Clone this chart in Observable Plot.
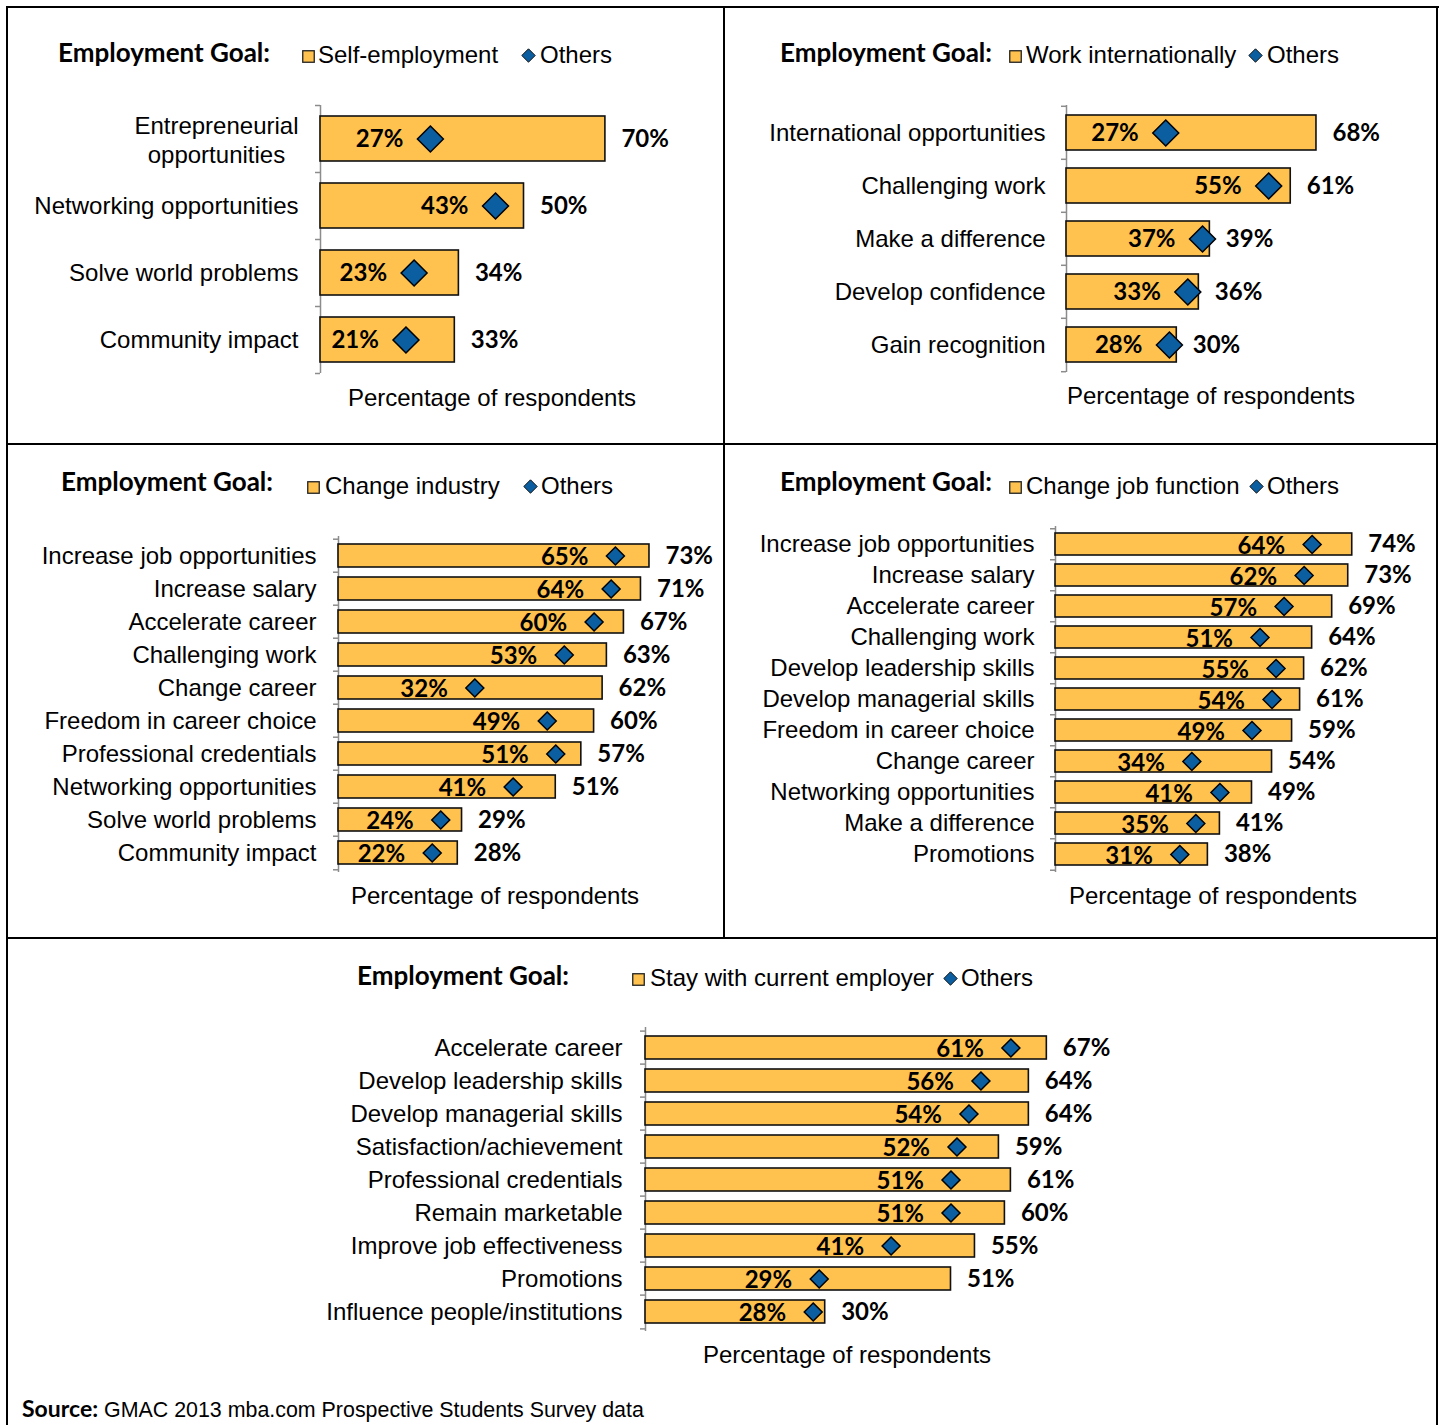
<!DOCTYPE html>
<html><head><meta charset="utf-8">
<script src="https://cdn.jsdelivr.net/npm/d3@7"></script>
<script src="https://cdn.jsdelivr.net/npm/@observablehq/plot@0.6"></script>
<style>
body{margin:0;background:#fff;}
#page{position:relative;width:1440px;height:1425px;background:#fff;overflow:hidden;font-family:"Liberation Sans",Arial,sans-serif;color:#000;}
.abs{position:absolute;white-space:nowrap;line-height:1;transform:translateY(-50%);}
.ctr{transform:translate(-50%,-50%);}
.title{font-family:Lato,sans-serif;font-weight:700;font-size:26px;}
.leg{font-size:24px;}
.xlab{font-size:24px;}
.line{position:absolute;background:#000;}
svg.plot{position:absolute;overflow:visible;}
</style></head><body><div id="page"></div>
<script>
// ---------- DATA ----------
const p1Cats = ["Entrepreneurial\nopportunities", "Networking opportunities", "Solve world problems", "Community impact"];
const p1Goal = [70, 50, 34, 33];
const p1Others = [27, 43, 23, 21];

const p2Cats = ["International opportunities", "Challenging work", "Make a difference", "Develop confidence", "Gain recognition"];
const p2Goal = [68, 61, 39, 36, 30];
const p2Others = [27, 55, 37, 33, 28];

const p3Cats = ["Increase job opportunities", "Increase salary", "Accelerate career", "Challenging work", "Change career", "Freedom in career choice", "Professional credentials", "Networking opportunities", "Solve world problems", "Community impact"];
const p3Goal = [73, 71, 67, 63, 62, 60, 57, 51, 29, 28];
const p3Others = [65, 64, 60, 53, 32, 49, 51, 41, 24, 22];

const p4Cats = ["Increase job opportunities", "Increase salary", "Accelerate career", "Challenging work", "Develop leadership skills", "Develop managerial skills", "Freedom in career choice", "Change career", "Networking opportunities", "Make a difference", "Promotions"];
const p4Goal = [74, 73, 69, 64, 62, 61, 59, 54, 49, 41, 38];
const p4Others = [64, 62, 57, 51, 55, 54, 49, 34, 41, 35, 31];

const p5Cats = ["Accelerate career", "Develop leadership skills", "Develop managerial skills", "Satisfaction/achievement", "Professional credentials", "Remain marketable", "Improve job effectiveness", "Promotions", "Influence people/institutions"];
const p5Goal = [67, 64, 64, 59, 61, 60, 55, 51, 30];
const p5Others = [61, 56, 54, 52, 51, 51, 41, 29, 28];

const goalNames = ["Self-employment", "Work internationally", "Change industry", "Change job function", "Stay with current employer"];
const titleText = "Employment Goal:";
const othersName = "Others";
const xLabelText = "Percentage of respondents";
const sourceBold = "Source:";
const sourceText = "GMAC 2013 mba.com Prospective Students Survey data";

// ---------- STYLE / LAYOUT ----------
const BAR = "#FFC24F";
const DIAMOND = "#0B5FA0";
const AXIS = "#8c8c8c";
const VALFONT = "Lato, sans-serif";
const CATFONT = "'Liberation Sans', Arial, sans-serif";
const CATSIZE = 24;

const panels = [
  {cats: p1Cats, goal: p1Goal, others: p1Others, name: goalNames[0],
   box: [7, 7, 717, 437], axisX: 320, k: 4.07, y0: 105, y1: 373, pad: 0.33, r: 11.7, dyIn: 0, catDx: -22,
   title: [58, 52], sq: 302, legText: 318, dia: 528, othText: 540, legY: 55, xlab: [492, 398]},
  {cats: p2Cats, goal: p2Goal, others: p2Others, name: goalNames[1],
   box: [724, 7, 713, 437], axisX: 1066, k: 3.676, y0: 105, y1: 372, pad: 0.345, r: 11.7, dyIn: 0, catDx: -21,
   title: [780, 52], sq: 1009, legText: 1026, dia: 1255, othText: 1267, legY: 55, xlab: [1211, 396]},
  {cats: p3Cats, goal: p3Goal, others: p3Others, name: goalNames[2],
   box: [7, 444, 717, 494], axisX: 338, k: 4.26, y0: 536, y1: 872, pad: 0.31, r: 8.1, dyIn: 1.5, catDx: -22,
   title: [61, 481], sq: 307, legText: 325, dia: 530, othText: 541, legY: 486, xlab: [495, 896]},
  {cats: p4Cats, goal: p4Goal, others: p4Others, name: goalNames[3],
   box: [724, 444, 713, 494], axisX: 1055, k: 4.01, y0: 526, y1: 872, pad: 0.3, r: 8.1, dyIn: 1.5, catDx: -21,
   title: [780, 481], sq: 1009, legText: 1026, dia: 1256, othText: 1267, legY: 486, xlab: [1213, 896]},
  {cats: p5Cats, goal: p5Goal, others: p5Others, name: goalNames[4],
   box: [7, 938, 1430, 487], axisX: 645, k: 5.99, y0: 1027, y1: 1331, pad: 0.31, r: 8.1, dyIn: 1.5, catDx: -23,
   title: [357, 975], sq: 632, legText: 650, dia: 950, othText: 961, legY: 978, xlab: [847, 1355]}
];

const page = document.getElementById("page");
const measureCtx = document.createElement("canvas").getContext("2d");
function textWidth(t, font) { measureCtx.font = font; return measureCtx.measureText(t).width; }

function addText(txt, x, y, cls, center) {
  const d = document.createElement("div");
  d.className = "abs " + cls + (center ? " ctr" : "");
  d.style.left = x + "px";
  d.style.top = y + "px";
  d.textContent = txt;
  page.appendChild(d);
  return d;
}
function addLine(x, y, w, h) {
  const d = document.createElement("div");
  d.className = "line";
  Object.assign(d.style, {left: x + "px", top: y + "px", width: w + "px", height: h + "px"});
  page.appendChild(d);
}
function addSvg(html, x, y, w, h) {
  const d = document.createElement("div");
  Object.assign(d.style, {position: "absolute", left: x + "px", top: (y - h / 2) + "px", width: w + "px", height: h + "px"});
  d.innerHTML = html;
  page.appendChild(d);
}

for (const p of panels) {
  const [bx, by, bw, bh] = p.box;
  const data = p.cats.map((c, i) => ({cat: c, goal: p.goal[i], others: p.others[i]}));
  const single = p.cats.filter(c => !c.includes("\n"));
  const multi = p.cats.filter(c => c.includes("\n"));
  const catMarks = [
    Plot.text(single, {x: 0, y: d => d, text: d => d, textAnchor: "end", dx: p.catDx,
      fontFamily: CATFONT, fontSize: CATSIZE, fill: "#000"})
  ];
  for (const m of multi) {
    const w = Math.max(...m.split("\n").map(l => textWidth(l, `${CATSIZE}px ${CATFONT}`)));
    catMarks.push(Plot.text([m], {x: 0, y: d => d, text: d => d, textAnchor: "middle", dx: p.catDx - w / 2, lineHeight: 1.2,
      fontFamily: CATFONT, fontSize: CATSIZE, fill: "#000"}));
  }
  const ml = p.axisX - bx;
  const mt = p.y0 - by;
  const mb = by + bh - p.y1;
  const step = (p.y1 - p.y0) / p.cats.length;
  const tickLen = 5 / p.k;
  const chart = Plot.plot({
    width: bw, height: bh,
    marginLeft: ml, marginRight: 0, marginTop: mt, marginBottom: mb,
    x: {domain: [0, 100], range: [ml, ml + 100 * p.k], axis: null},
    y: {domain: p.cats, paddingInner: p.pad, paddingOuter: p.pad / 2, axis: null},
    style: {background: "transparent", overflow: "visible"},
    marks: [
      Plot.ruleX([0], {stroke: AXIS, strokeWidth: 1.5}),
      Plot.ruleY(p.cats, {y: d => d, x1: 0, x2: -tickLen, dy: -step / 2, stroke: AXIS, strokeWidth: 1.5}),
      Plot.ruleY(p.cats.slice(-1), {y: d => d, x1: 0, x2: -tickLen, dy: step / 2, stroke: AXIS, strokeWidth: 1.5}),
      Plot.barX(data, {x: "goal", y: "cat", fill: BAR, stroke: "#111", strokeWidth: 1.6}),
      Plot.text(data, {x: "others", y: "cat", text: d => d.others + "%", textAnchor: "end", dx: -27, dy: p.dyIn,
        fontFamily: VALFONT, fontWeight: 700, fontSize: 24, fill: "#000"}),
      Plot.dot(data, {x: "others", y: "cat", symbol: "diamond2", r: p.r, fill: DIAMOND, stroke: "#000", strokeWidth: 1.5}),
      Plot.text(data, {x: "goal", y: "cat", text: d => d.goal + "%", textAnchor: "start", dx: 16,
        fontFamily: VALFONT, fontWeight: 700, fontSize: 24, fill: "#000"}),
      ...catMarks
    ]
  });
  chart.classList.add("plot");
  chart.style.left = bx + "px";
  chart.style.top = by + "px";
  page.appendChild(chart);

  // title + legend
  addText(titleText, p.title[0], p.title[1], "title");
  addSvg(`<svg width="13" height="13"><rect x="0.75" y="0.75" width="11.5" height="11.5" fill="${BAR}" stroke="#222" stroke-width="1.3"/></svg>`, p.sq, p.legY, 13, 13);
  addText(p.name, p.legText, p.legY, "leg");
  addSvg(`<svg width="15" height="15"><path d="M7.5 0.8 L14.2 7.5 L7.5 14.2 L0.8 7.5 Z" fill="${DIAMOND}" stroke="#111" stroke-width="1"/></svg>`, p.dia - 7.5, p.legY, 15, 15);
  addText(othersName, p.othText, p.legY, "leg");
  addText(xLabelText, p.xlab[0], p.xlab[1], "xlab", true);
}

// borders
addLine(6, 6, 1433, 2);      // top
addLine(6, 6, 2, 1419);      // left
addLine(1436, 6, 2, 1419);   // right
addLine(6, 443, 1432, 2);    // middle horizontal
addLine(6, 937, 1432, 2);    // lower horizontal
addLine(723, 6, 2, 932);     // middle vertical

// source
const s = addText("", 22, 1409, "leg");
s.style.fontSize = "21.4px";
s.innerHTML = `<span style="font-family:Lato,sans-serif;font-weight:700;font-size:23px">${sourceBold}</span> ${sourceText}`;
</script>
</body></html>
